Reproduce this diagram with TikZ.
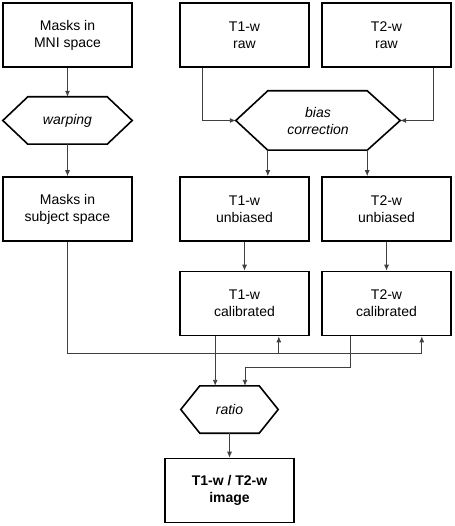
\documentclass[tikz,border=0pt]{standalone}
\usepackage{fontspec}
\setmainfont{Liberation Sans}
\usetikzlibrary{arrows.meta}
\begin{document}
\begin{tikzpicture}[x=1pt,y=-1pt,
  box/.style={draw=black, line width=1.6pt, minimum width=129pt, minimum height=64pt, inner sep=0pt, align=center, font=\fontsize{14}{17}\selectfont},
  hexnode/.style={inner sep=0pt, align=center, font=\fontsize{14}{17}\selectfont\itshape},
  hexline/.style={draw=black, line width=1.6pt, line join=miter},
  conn/.style={draw=black!75, line width=0.9pt},
  arr/.style={conn, -{Latex[length=6pt,width=5pt]}}
]
\useasboundingbox (0,0) rectangle (454,526);

% boxes
\node[box] (mni)   at (67.5,35)   {Masks in\\MNI space};
\node[box] (t1raw) at (244.5,35)  {T1-w\\raw};
\node[box] (t2raw) at (386.5,35)  {T2-w\\raw};
\node[box] (subj)  at (67.5,209)  {Masks in\\subject space};
\node[box] (t1unb) at (244.5,209) {T1-w\\unbiased};
\node[box] (t2unb) at (386.5,209) {T2-w\\unbiased};
\node[box] (t1cal) at (244.5,303.5) {T1-w\\calibrated};
\node[box] (t2cal) at (386.5,303.5) {T2-w\\calibrated};
\node[box, font=\fontsize{14}{17}\selectfont\bfseries] (final) at (229.5,490.5) {T1-w / T2-w\\image};

% hexagons
\node[hexnode, minimum width=129pt, minimum height=47pt] (warp) at (67.5,120.5) {warping};
\node[hexnode, minimum width=164pt, minimum height=59pt] (bias) at (318,120.5) {bias\\correction};
\node[hexnode, minimum width=97pt, minimum height=47pt] (ratio) at (229.5,409.5) {ratio};

\draw[hexline] (warp.west) -- ([xshift=25pt]warp.north west) -- ([xshift=-25pt]warp.north east) -- (warp.east) -- ([xshift=-25pt]warp.south east) -- ([xshift=25pt]warp.south west) -- cycle;
\draw[hexline] (bias.west) -- ([xshift=32pt]bias.north west) -- ([xshift=-33pt]bias.north east) -- (bias.east) -- ([xshift=-33pt]bias.south east) -- ([xshift=32pt]bias.south west) -- cycle;
\draw[hexline] (ratio.west) -- ([xshift=19pt]ratio.north west) -- ([xshift=-19pt]ratio.north east) -- (ratio.east) -- ([xshift=-19pt]ratio.south east) -- ([xshift=19pt]ratio.south west) -- cycle;

% connectors
\draw[arr] (mni.south) -- (warp.north);
\draw[arr] (warp.south) -- (subj.north);
\draw[arr] ([xshift=23pt]t1raw.south west) |- (bias.west);
\draw[arr] ([xshift=-18pt]t2raw.south east) |- (bias.east);
\coordinate (b1) at ([xshift=32pt]bias.south west);
\coordinate (b2) at ([xshift=-33pt]bias.south east);
\draw[arr] (b1) -- (b1 |- t1unb.north);
\draw[arr] (b2) -- (b2 |- t2unb.north);
\draw[arr] (t1unb.south) -- (t1cal.north);
\draw[arr] (t2unb.south) -- (t2cal.north);

\coordinate (bus) at (0,353);
\coordinate (m1) at ([xshift=-31pt]t1cal.south east);
\coordinate (m2) at ([xshift=-30pt]t2cal.south east);
\draw[conn] (subj.south) |- (m2 |- bus);
\draw[arr] (m1 |- bus) -- (m1);
\draw[arr] (m2 |- bus) -- (m2);

\coordinate (c1) at ([xshift=36pt]t1cal.south west);
\coordinate (c2) at ([xshift=29pt]t2cal.south west);
\coordinate (r2) at (245,0);
\draw[arr] (c1) -- (c1 |- ratio.north);
\draw[arr] (c2) |- (r2 |- 0,367) -- (r2 |- ratio.north);
\draw[arr] (ratio.south) -- (final.north);
\end{tikzpicture}
\end{document}
